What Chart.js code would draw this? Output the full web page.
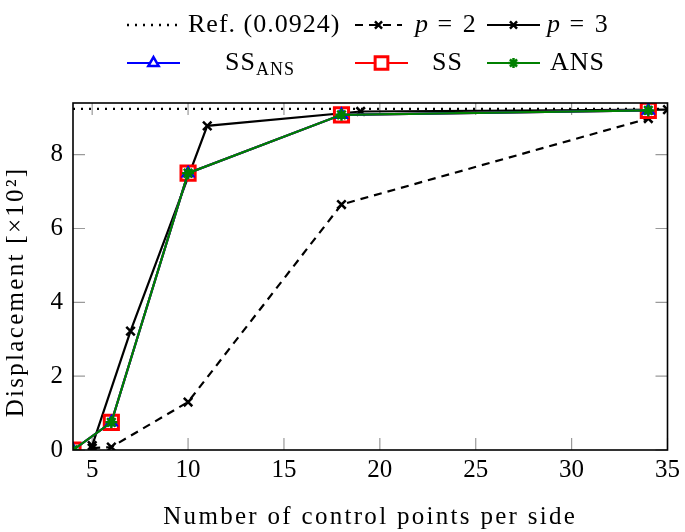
<!DOCTYPE html>
<html>
<head>
<meta charset="utf-8">
<script src="https://cdn.jsdelivr.net/npm/chart.js@4/dist/chart.umd.min.js"></script>
<style>
    body { margin: 0; background: #fff; }
</style>
</head>
<body>
<canvas id="myChartDeplacement" width="685" height="532"></canvas>
<script>

//! Les données.

const nbPointsP2 = [5, 6, 10, 18, 34];
const deplacementP2 = [0.05, 0.08, 1.3, 6.65, 8.98];

const nbPointsP3 = [5, 7, 11, 19, 35];
const deplacementP3 = [0.12, 3.22, 8.78, 9.17, 9.22];

const nbPointsSS = [4, 6, 10, 18, 34];
const deplacementSSANS = [0, 0.75, 7.5, 9.08, 9.2];
const deplacementSS = [0, 0.75, 7.5, 9.08, 9.2];
const deplacementANS = [0, 0.75, 7.5, 9.08, 9.2];

const refX = [4, 35];
const refY = [9.24, 9.24];

const xTicks = [5, 10, 15, 20, 25, 30, 35];
const yTicks = [0, 2, 4, 6, 8];

const titreX = 'Number of control points per side';
const titreY = 'Displacement [×10²]';

const police = '"Liberation Serif", "DejaVu Serif", serif';

//! --------------------------------------------------

const toPoints = (xs, ys) => xs.map((x, i) => ({ x: x, y: ys[i] }));

//? Cadre, petites graduations vers l'intérieur et titres des axes.

const cadrePlugin = {
    id: 'cadre',
    beforeDatasetsDraw(chart) {
        const { ctx, chartArea: a, scales } = chart;
        ctx.save();
        ctx.strokeStyle = '#9a9a9a';
        ctx.lineWidth = 1.2;
        ctx.beginPath();
        xTicks.forEach((v) => {
            const px = scales.x.getPixelForValue(v);
            ctx.moveTo(px, a.bottom);
            ctx.lineTo(px, a.bottom - 12);
            ctx.moveTo(px, a.top);
            ctx.lineTo(px, a.top + 12);
        });
        yTicks.forEach((v) => {
            const py = scales.y.getPixelForValue(v);
            ctx.moveTo(a.left, py);
            ctx.lineTo(a.left + 12, py);
            ctx.moveTo(a.right, py);
            ctx.lineTo(a.right - 12, py);
        });
        ctx.stroke();
        ctx.restore();
    },
    afterDatasetsDraw(chart) {
        const { ctx, chartArea: a } = chart;
        ctx.save();
        ctx.strokeStyle = '#000';
        ctx.lineWidth = 1.6;
        ctx.strokeRect(a.left, a.top, a.right - a.left, a.bottom - a.top);

        // titres
        ctx.fillStyle = '#000';
        ctx.font = '25px ' + police;
        ctx.letterSpacing = '2.3px';
        ctx.textAlign = 'center';
        ctx.textBaseline = 'middle';
        ctx.fillText(titreX, (a.left + a.right) / 2, 517);
        ctx.translate(16, 292);
        ctx.rotate(-Math.PI / 2);
        ctx.fillText(titreY, 0, 0);
        ctx.restore();
    },
};

//? Légende (deux lignes, dessinée à la main).

const legendeItems = [
    { ds: 4, x1: 127, x2: 180, y: 25, text: 'Ref. (0.0924)', tx: 188 },
    { ds: 3, x1: 355, x2: 402, y: 25, math: '2', tx: 415, r: 5, fond: '#000' },
    { ds: 5, x1: 487, x2: 540, y: 25, math: '3', tx: 547, r: 5, fond: '#000' },
    { ds: 1, x1: 127, x2: 180, y: 63, text: 'SS', sub: 'ANS', tx: 225, r: 6, fond: '#fff' },
    { ds: 2, x1: 355, x2: 408, y: 63, text: 'SS', tx: 432, r: 9, fond: '#fff' },
    { ds: 0, x1: 487, x2: 540, y: 63, text: 'ANS', tx: 550, r: 5, fond: 'green' },
];

const legendePlugin = {
    id: 'legende',
    afterDraw(chart) {
        const ctx = chart.ctx;
        ctx.save();
        legendeItems.forEach((it) => {
            const d = chart.data.datasets[it.ds];
            ctx.strokeStyle = d.borderColor;
            ctx.lineWidth = d.borderWidth;
            ctx.setLineDash(d.borderDash || []);
            ctx.beginPath();
            ctx.moveTo(it.x1, it.y);
            ctx.lineTo(it.x2, it.y);
            ctx.stroke();
            ctx.setLineDash([]);
            if (it.r) {
                ctx.fillStyle = it.fond;
                ctx.strokeStyle = d.pointBorderColor;
                ctx.lineWidth = d.pointBorderWidth;
                Chart.helpers.drawPoint(ctx, {
                    pointStyle: d.pointStyle,
                    radius: it.r,
                    borderWidth: d.pointBorderWidth,
                    rotation: 0,
                }, (it.x1 + it.x2) / 2, it.y);
            }
            ctx.fillStyle = '#000';
            ctx.textBaseline = 'middle';
            ctx.textAlign = 'left';
            ctx.letterSpacing = '1px';
            if (it.math) {
                ctx.font = 'italic 26px ' + police;
                ctx.fillText('p', it.tx, it.y);
                const w = ctx.measureText('p').width;
                ctx.font = '26px ' + police;
                ctx.letterSpacing = '2px';
                ctx.fillText(' = ' + it.math, it.tx + w, it.y);
            } else {
                ctx.font = '26px ' + police;
                ctx.fillText(it.text, it.tx, it.y);
                if (it.sub) {
                    const w = ctx.measureText(it.text).width;
                    ctx.font = '18px ' + police;
                    ctx.fillText(it.sub, it.tx + w, it.y + 7);
                }
            }
        });
        ctx.restore();
    },
};

//? Construction du graphique.

const serie = (label, xs, ys, couleur, style, rayon, extra) => Object.assign({
    label: label,
    data: toPoints(xs, ys),
    showLine: true,
    borderColor: couleur,
    backgroundColor: couleur,
    borderWidth: 2.2,
    pointStyle: style,
    pointRadius: rayon,
    pointHoverRadius: rayon,
    pointBorderColor: couleur,
    pointBackgroundColor: couleur,
    pointBorderWidth: 2.5,
    tension: 0,
}, extra || {});

const ctxDeplacement = document.getElementById('myChartDeplacement').getContext('2d');

new Chart(ctxDeplacement, {
    type: 'scatter',
    data: {
        datasets: [
            serie('ANS', nbPointsSS, deplacementANS, 'green', 'star', 6),
            serie('SS_ANS', nbPointsSS, deplacementSSANS, 'blue', 'triangle', 6),
            serie('SS', nbPointsSS, deplacementSS, 'red', 'rect', 10, { pointBackgroundColor: '#fff', pointBorderWidth: 3 }),
            serie('p = 2', nbPointsP2, deplacementP2, '#000', 'crossRot', 6, { borderDash: [8, 6] }),
            serie('Ref', refX, refY, '#000', 'circle', 0, { borderDash: [2, 6], borderWidth: 2.4 }),
            serie('p = 3', nbPointsP3, deplacementP3, '#000', 'crossRot', 6),
        ],
    },
    options: {
        responsive: false,
        animation: false,
        layout: { padding: { top: 103, right: 15, left: 0, bottom: 0 } },
        plugins: {
            legend: { display: false },
            tooltip: { enabled: false },
        },
        scales: {
            x: {
                type: 'linear',
                min: 4,
                max: 35,
                afterBuildTicks: (s) => { s.ticks = xTicks.map((v) => ({ value: v })); },
                afterFit: (s) => { s.height = 82; },
                grid: { display: false, drawTicks: false },
                border: { display: false },
                ticks: { color: '#000', font: { family: police, size: 25 }, padding: 5, maxRotation: 0 },
            },
            y: {
                min: 0,
                max: 9.4,
                afterBuildTicks: (s) => { s.ticks = yTicks.map((v) => ({ value: v })); },
                afterFit: (s) => { s.width = 73; },
                grid: { display: false, drawTicks: false },
                border: { display: false },
                ticks: { color: '#000', font: { family: police, size: 25 }, padding: 10 },
            },
        },
    },
    plugins: [cadrePlugin, legendePlugin],
});

</script>
</body>
</html>
